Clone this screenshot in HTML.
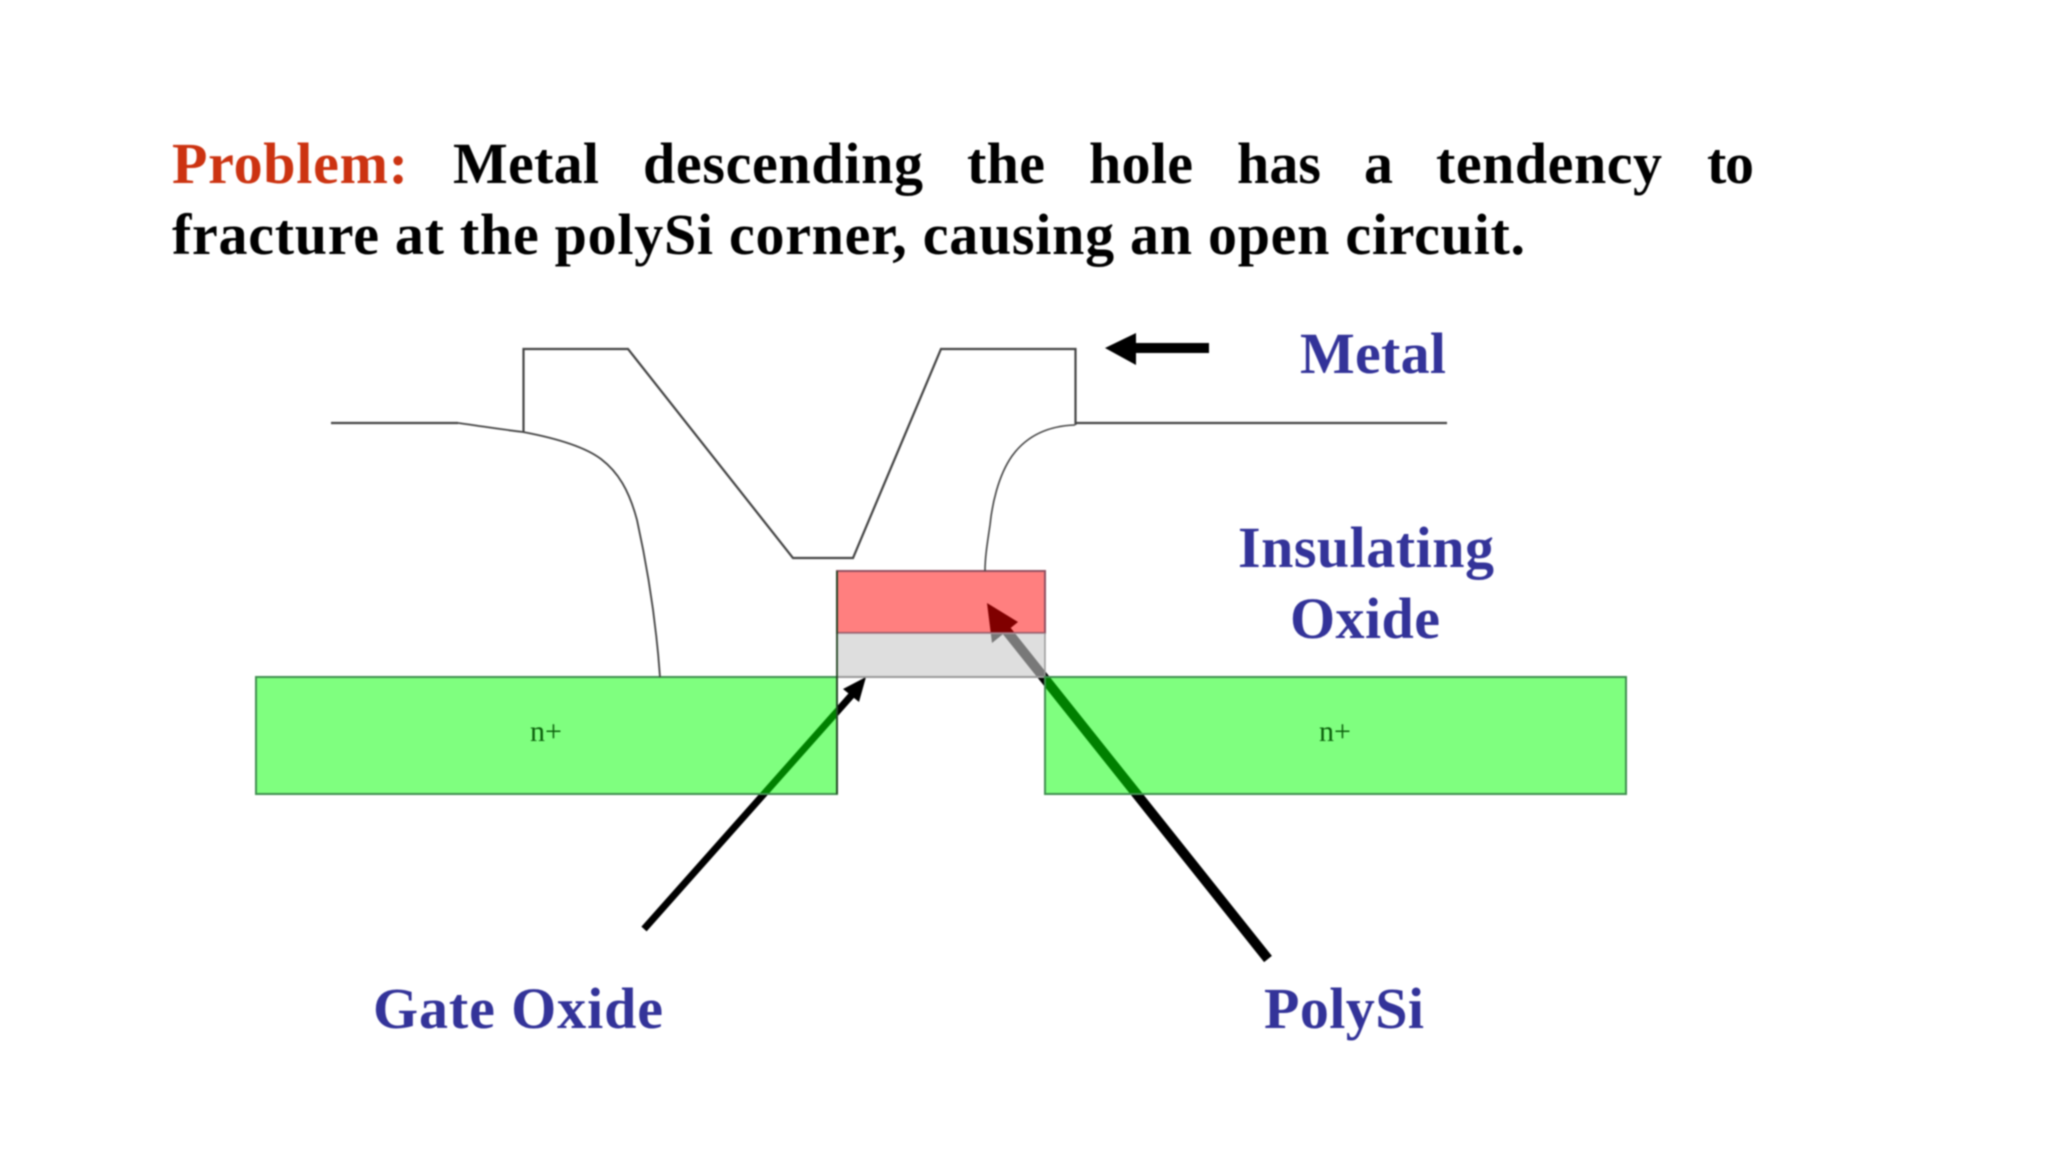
<!DOCTYPE html>
<html>
<head>
<meta charset="utf-8">
<style>
html,body{margin:0;padding:0;background:#fff;width:2048px;height:1152px;overflow:hidden}
svg{display:block;filter:blur(0.9px)}
text{font-family:"Liberation Serif",serif}
.t{font-weight:bold;font-size:58px;fill:#000}
.b{font-weight:bold;font-size:58px;fill:#333399}
.n{font-size:30px;fill:#0b5f0b}
</style>
</head>
<body>
<svg width="2048" height="1152" viewBox="0 0 2048 1152" xmlns="http://www.w3.org/2000/svg">
<rect width="2048" height="1152" fill="#fff"/>

<!-- heading -->
<text class="t" x="172" y="183" textLength="236" style="fill:#cc3311">Problem:</text>
<text class="t" x="453" y="183" textLength="146">Metal</text>
<text class="t" x="643" y="183" textLength="280">descending</text>
<text class="t" x="967" y="183" textLength="78">the</text>
<text class="t" x="1089" y="183" textLength="104">hole</text>
<text class="t" x="1237" y="183" textLength="84">has</text>
<text class="t" x="1364" y="183" textLength="27">a</text>
<text class="t" x="1436" y="183" textLength="226">tendency</text>
<text class="t" x="1707" y="183" textLength="47">to</text>
<text class="t" x="172" y="254" textLength="1353">fracture at the polySi corner, causing an open circuit.</text>

<!-- arrows below translucent fills -->
<g fill="#000" stroke="none">
<line x1="644" y1="929" x2="858" y2="688" stroke="#000" stroke-width="7"/>
<polygon points="866,677 859,702 843,689"/>
<line x1="1268" y1="959" x2="998" y2="620" stroke="#000" stroke-width="10"/>
<polygon points="987,603 1018,622 992,643"/>
<rect x="1130" y="343" width="79" height="10"/>
<polygon points="1105,348 1136,333 1136,365"/>
</g>

<!-- fills -->
<rect x="837" y="571" width="208" height="62" fill="#ff0000" fill-opacity=".5" stroke="#905060" stroke-width="2"/>
<rect x="837" y="633" width="208" height="44" fill="#c8c8c8" fill-opacity=".6" stroke="none"/>
<line x1="837" y1="677" x2="1045" y2="677" stroke="#999" stroke-width="2"/>
<line x1="1045" y1="633" x2="1045" y2="677" stroke="#999" stroke-width="1.5"/>
<rect x="256" y="677" width="581" height="117" fill="#00ff00" fill-opacity=".5" stroke="#3f8f4f" stroke-width="2"/>
<rect x="1045" y="677" width="581" height="117" fill="#00ff00" fill-opacity=".5" stroke="#3f8f4f" stroke-width="2"/>
<line x1="837" y1="571" x2="837" y2="794" stroke="#224422" stroke-width="1.8"/>
<text class="n" x="530" y="741">n+</text>
<text class="n" x="1319" y="741">n+</text>

<!-- metal and oxide outlines -->
<g fill="none" stroke="#444" stroke-linejoin="miter">
<path d="M523.5 432 V349 H628 L793 558 H853 L941 349 H1075.5 V425" stroke-width="2.2"/>
<path d="M331 423 H458" stroke-width="2.2"/>
<path d="M1075 423 H1447" stroke-width="2.2"/>
<path d="M458 423 C480 426 505 430 523 432 C555 438 585 447 601 459 C618 472 629 490 637 520 C648 570 656 620 660 677" stroke-width="1.8"/>
<path d="M1075 425 C1045 426 1025 438 1012 456 C998 476 992 505 990 525 C987 545 985 558 985 571" stroke-width="1.6"/>
</g>

<!-- labels -->
<text class="b" x="1300" y="373" textLength="146">Metal</text>
<text class="b" x="1238" y="567" textLength="256">Insulating</text>
<text class="b" x="1290" y="638" textLength="150">Oxide</text>
<text class="b" x="373" y="1028" textLength="290">Gate Oxide</text>
<text class="b" x="1264" y="1028" textLength="160">PolySi</text>
</svg>
</body>
</html>
